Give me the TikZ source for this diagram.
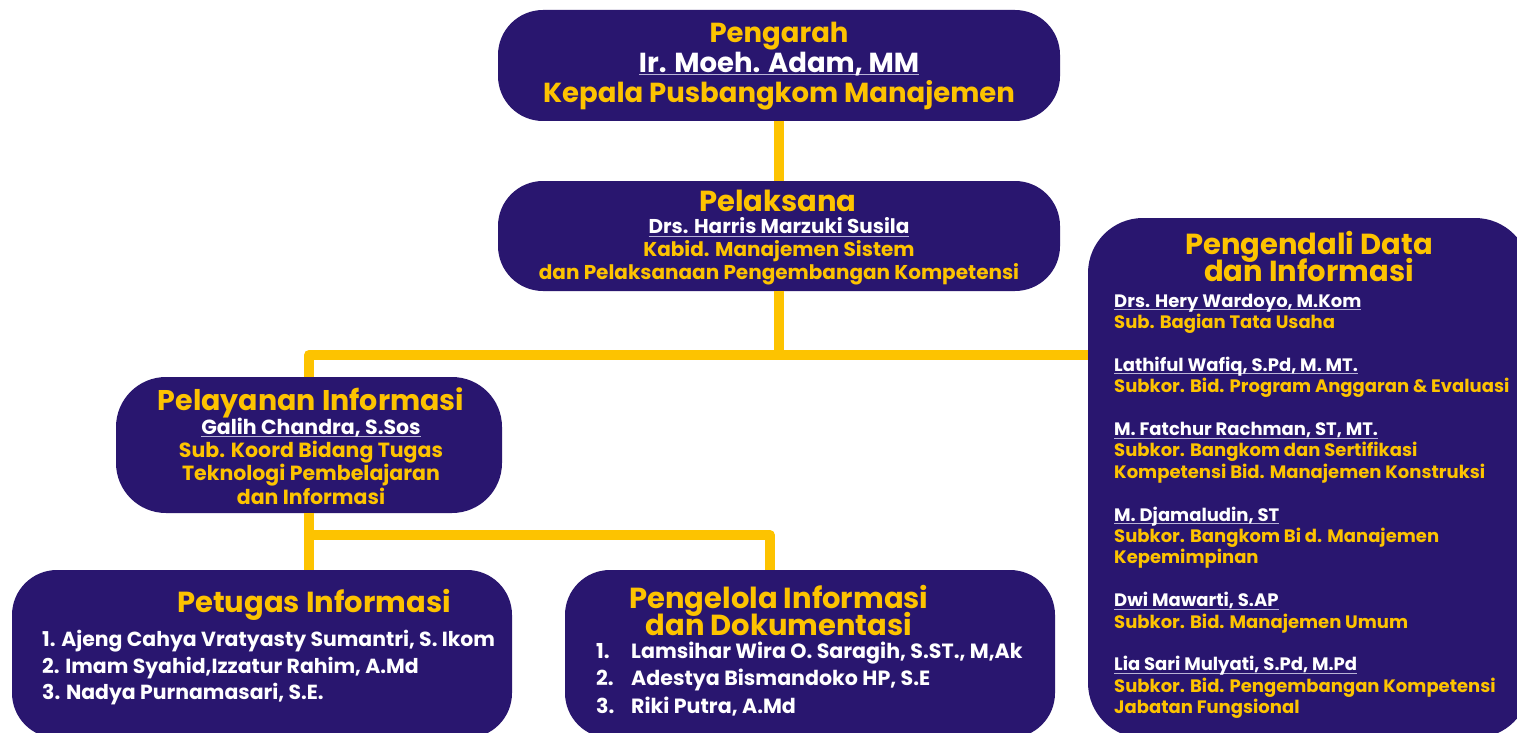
\documentclass[tikz,border=0pt]{standalone}
\usepackage{fontspec}
\setmainfont{Poppins}
\usepackage{tikz}
\usetikzlibrary{positioning}
\definecolor{pb-purple}{HTML}{29166F}
\definecolor{pb-yellow}{HTML}{FDC300}
\definecolor{pb-line}{HTML}{B8B3D6}
\newcommand{\nm}[1]{{\color{white}\setbox0\hbox{#1}\rlap{\color{pb-line}\rule[-3pt]{\wd0}{0.9pt}}\box0}}
\newcommand{\fs}[2]{\bfseries\fontsize{#1}{#2}\selectfont\lineskiplimit=-50pt\lineskip=0pt}

\tikzset{
  unit/.style={fill=pb-purple, rounded corners=#1, inner sep=0pt},
  unit/.default=45pt,
  link/.style={pb-yellow, line width=10pt, line join=round},
  head/.style={pb-yellow, align=center, inner sep=0pt, font=\fs{29}{27}},
  body/.style={pb-yellow, inner sep=0pt}
}

\begin{document}
\begin{tikzpicture}[x=1pt, y=-1pt]
  \useasboundingbox (0,0) rectangle (1517,733);
  \clip (0,0) rectangle (1517,733);
  \fill[white] (0,0) rectangle (1517,733);

  % boxes
  \node[unit, minimum width=562pt, minimum height=111pt] (pengarah) at (779,65.5) {};
  \node[unit, minimum width=562pt, minimum height=110pt] (pelaksana) at (779,236) {};
  \node[unit=55pt, minimum width=442pt, minimum height=520pt] (pengendali) at (1309,478) {};
  \node[unit=50pt, minimum width=386pt, minimum height=136pt] (pelayanan) at (309,445) {};
  \node[unit, minimum width=500pt, minimum height=168pt] (petugas) at (262,654) {};
  \node[unit, minimum width=490pt, minimum height=168pt] (pengelola) at (810,654) {};

  % connectors
  \coordinate (bus) at (0,355);
  \coordinate (bus2) at (0,535);
  \draw[link] (pengarah.south) -- (pelaksana.north);
  \draw[link] (pelaksana.south) -- (pelaksana.south |- bus);
  \draw[link] (pelayanan.north) |- (pengendali.west |- bus);
  \draw[link] (pelayanan.south) -- (pelayanan.south |- petugas.north);
  \draw[link] (pelayanan.south |- bus2) -| ([xshift=205pt]pengelola.north west);

  % texts
  \node[head, font=\fs{27.5}{30}] (tPengarah) at (779,66)
    {Pengarah\\\nm{Ir. Moeh. Adam, MM}\\Kepala Pusbangkom Manajemen};

  \node[head] (tPelaksana) at (778,201) {Pelaksana};
  \node[body, align=center, font=\fs{20}{23}] (bPelaksana) at (779,251.5)
    {\nm{Drs. Harris Marzuki Susila}\\Kabid. Manajemen Sistem\\dan Pelaksanaan Pengembangan Kompetensi};

  \node[head] (tPengendali) at (1309,256.5) {Pengendali Data\\dan Informasi};
  \node[body, align=left, anchor=north west, font=\fs{18}{21.4}] (bPengendali) at (1114,293.5)
    {\nm{Drs. Hery Wardoyo, M.Kom}\\Sub. Bagian Tata Usaha\\[21.4pt]
     \nm{Lathiful Wafiq, S.Pd, M. MT.}\\Subkor. Bid. Program Anggaran \& Evaluasi\\[21.4pt]
     \nm{M. Fatchur Rachman, ST, MT.}\\Subkor. Bangkom dan Sertifikasi\\Kompetensi Bid. Manajemen Konstruksi\\[21.4pt]
     \nm{M. Djamaludin, ST}\\Subkor. Bangkom Bi d. Manajemen\\Kepemimpinan\\[21.4pt]
     \nm{Dwi Mawarti, S.AP}\\Subkor. Bid. Manajemen Umum\\[21.4pt]
     \nm{Lia Sari Mulyati, S.Pd, M.Pd}\\Subkor. Bid. Pengembangan Kompetensi\\Jabatan Fungsional};

  \node[head, font=\fs{28.5}{27}] (tPelayanan) at (311,403) {Pelayanan Informasi};
  \node[body, align=center, font=\fs{20.5}{23.3}] (bPelayanan) at (311,461)
    {\nm{Galih Chandra, S.Sos}\\Sub. Koord Bidang Tugas\\Teknologi Pembelajaran\\dan Informasi};

  \node[head] (tPetugas) at (314,605) {Petugas Informasi};
  \node[body, white, align=left, anchor=west, font=\fs{20.4}{26.5}] (bPetugas) at (42,668)
    {1. Ajeng Cahya Vratyasty Sumantri, S. Ikom\\2. Imam Syahid,Izzatur Rahim, A.Md\\3. Nadya Purnamasari, S.E.};

  \node[head] (tPengelola) at (779,610.5) {Pengelola Informasi\\dan Dokumentasi};
  \node[body, white, align=left, anchor=west, font=\fs{20.6}{27.5}] (bPengelola) at (596,679)
    {\makebox[35pt][l]{1.}Lamsihar Wira O. Saragih, S.ST., M,Ak\\
     \makebox[35pt][l]{2.}Adestya Bismandoko HP, S.E\\
     \makebox[35pt][l]{3.}Riki Putra, A.Md};
\end{tikzpicture}
\end{document}
